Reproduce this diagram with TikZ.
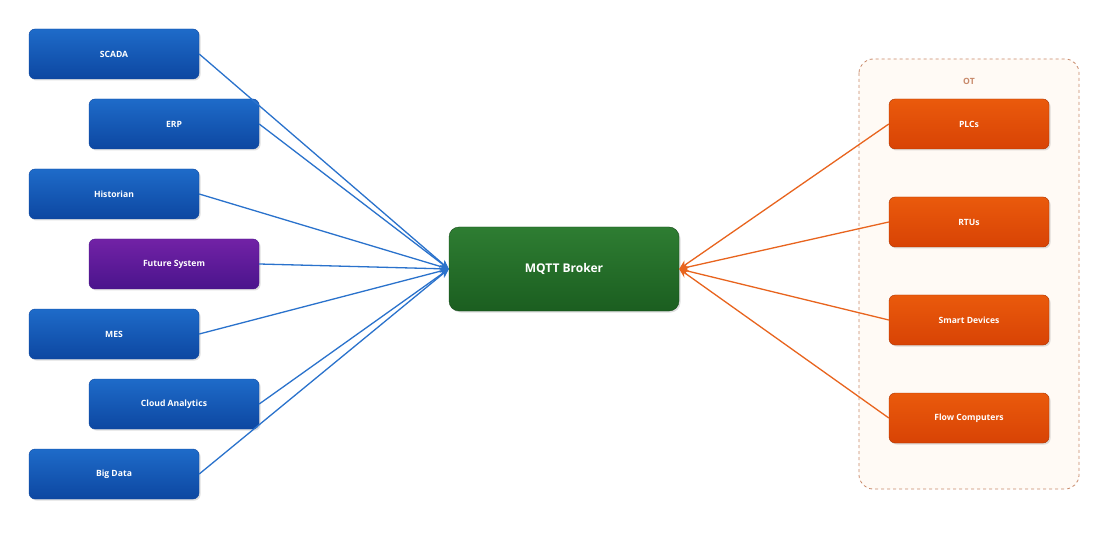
\documentclass[tikz,border=0pt]{standalone}
\usepackage{fontspec}
\setmainfont{Open Sans}
\usetikzlibrary{arrows.meta,shadows}
\definecolor{bluetop}{HTML}{1E6BC9}
\definecolor{bluebot}{HTML}{0D47A1}
\definecolor{blueline}{HTML}{2A72CC}
\definecolor{greentop}{HTML}{2E7D32}
\definecolor{greenbot}{HTML}{1B5E20}
\definecolor{purptop}{HTML}{7222A6}
\definecolor{purpbot}{HTML}{4A148C}
\definecolor{orgtop}{HTML}{EA5A0C}
\definecolor{orgbot}{HTML}{D84305}
\definecolor{orgline}{HTML}{E8641E}
\definecolor{otline}{HTML}{C8896A}
\tikzset{
  x=1pt,y=-1pt,
  box/.style={rounded corners=6pt,minimum width=170pt,minimum height=50pt,inner sep=0pt,
    font=\bfseries\fontsize{8.6}{10}\selectfont,text=white,drop shadow={opacity=0.25,shadow xshift=1.5pt,shadow yshift=-1.5pt}},
  bluebox/.style={box,top color=bluetop,bottom color=bluebot,draw=bluebot},
  purplebox/.style={box,top color=purptop,bottom color=purpbot,draw=purpbot},
  orgbox/.style={box,minimum width=160pt,top color=orgtop,bottom color=orgbot,draw=orgbot!80!black},
  barrow/.style={draw=blueline,line width=1.3pt,-{Stealth[length=9pt,width=8pt]}},
  oarrow/.style={draw=orgline,line width=1.3pt,-{Stealth[length=9pt,width=8pt]}},
}
\begin{document}
\begin{tikzpicture}
\useasboundingbox (0,0) rectangle (1107,534);
\fill[white] (0,0) rectangle (1107,534);
\draw[dashed,draw=otline,fill=orange!4,rounded corners=14pt,line width=0.8pt] (859,59) rectangle (1079,489);
\node[font=\bfseries\fontsize{8.6}{10}\selectfont,text=otline] (ot) at (969,81) {OT};
\node[bluebox] (scada) at (114,54) {SCADA};
\node[bluebox] (erp) at (174,124) {ERP};
\node[bluebox] (hist) at (114,194) {Historian};
\node[purplebox] (fut) at (174,264) {Future System};
\node[bluebox] (mes) at (114,334) {MES};
\node[bluebox] (cloud) at (174,404) {Cloud Analytics};
\node[bluebox] (big) at (114,474) {Big Data};
\node[box,minimum width=230pt,minimum height=84pt,rounded corners=10pt,top color=greentop,bottom color=greenbot,draw=greenbot!80!black,font=\bfseries\fontsize{12}{14}\selectfont] (mqtt) at (564,269) {MQTT Broker};
\node[orgbox] (plc) at (969,124) {PLCs};
\node[orgbox] (rtu) at (969,222) {RTUs};
\node[orgbox] (smart) at (969,320) {Smart Devices};
\node[orgbox] (flow) at (969,418) {Flow Computers};
\foreach \n in {scada,erp,hist,fut,mes,cloud,big}
  \draw[barrow] (\n.east) -- (mqtt.west);
\foreach \n in {plc,rtu,smart,flow}
  \draw[oarrow] (\n.west) -- (mqtt.east);
\end{tikzpicture}
\end{document}
